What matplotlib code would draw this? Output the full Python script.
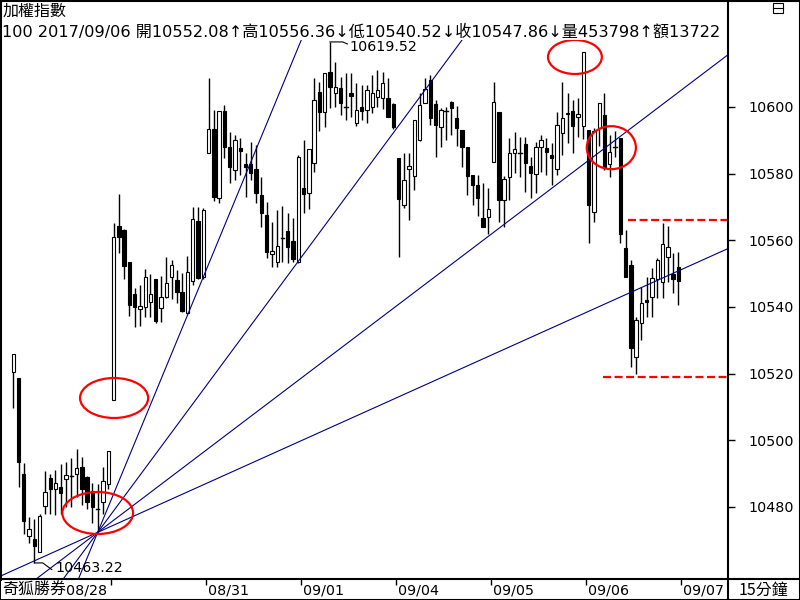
import matplotlib
matplotlib.use("Agg")
import matplotlib.pyplot as plt
from matplotlib.patches import Rectangle, Ellipse
from matplotlib.lines import Line2D

# 15-minute bars
opens = [10520.4, 10518.6, 10490.0, 10471.3, 10470.5, 10466.4, 10480.4, 10488.8, 10485.4, 10486.1,
         10488.4, 10489.3, 10490.0, 10492.1, 10489.1, 10484.9, 10479.5, 10481.4, 10486.9, 10512.1,
         10564.3, 10563.1, 10553.6, 10543.9, 10539.5, 10539.9, 10541.6, 10548.3, 10539.6, 10543.1,
         10548.9, 10548.1, 10544.4, 10538.3, 10547.9, 10565.8, 10548.9, 10586.1, 10593.3, 10572.6,
         10598.8, 10587.9, 10581.1, 10587.6, 10582.8, 10582.8, 10581.3, 10573.6, 10567.6, 10555.8,
         10553.6, 10560.6, 10562.9, 10559.8, 10553.6, 10575.6, 10574.1, 10583.1, 10604.4, 10598.6,
         10610.6, 10604.1, 10605.6, 10599.9, 10604.1, 10595.1, 10599.9, 10599.1, 10600.1, 10602.9,
         10602.6, 10602.6, 10600.8, 10584.6, 10570.6, 10581.3, 10579.4, 10590.1, 10601.1, 10608.1,
         10600.8, 10594.1, 10598.8, 10601.6, 10596.6, 10593.1, 10587.9, 10579.6, 10576.6, 10566.6,
         10567.1, 10583.6, 10598.6, 10572.1, 10578.9, 10586.1, 10586.1, 10588.8, 10582.3, 10579.8,
         10587.9, 10587.8, 10585.6, 10581.3, 10592.1, 10598.3, 10598.8, 10597.1, 10594.4, 10593.1,
         10568.6, 10593.6, 10597.6, 10582.9, 10588.0, 10590.6, 10557.6, 10552.6, 10525.1, 10535.1,
         10542.1, 10542.9, 10548.3, 10547.6, 10554.9, 10549.8, 10552.08]
highs = [10525.8, 10518.8, 10493.1, 10477.1, 10476.5, 10477.9, 10490.8, 10489.8, 10491.1, 10492.8,
         10493.6, 10494.6, 10497.3, 10495.1, 10489.3, 10487.1, 10486.8, 10492.1, 10496.8, 10565.3,
         10573.9, 10563.5, 10553.6, 10545.6, 10546.6, 10551.3, 10549.9, 10548.3, 10549.3, 10554.9,
         10554.1, 10551.1, 10550.1, 10555.3, 10570.1, 10570.1, 10569.6, 10608.6, 10599.1, 10598.8,
         10600.6, 10592.6, 10591.6, 10590.6, 10586.1, 10589.4, 10588.6, 10578.9, 10571.4, 10565.6,
         10569.1, 10570.3, 10568.3, 10566.6, 10585.6, 10590.1, 10587.3, 10608.6, 10607.6, 10610.1,
         10619.52, 10613.4, 10609.1, 10610.1, 10610.1, 10607.1, 10606.6, 10606.6, 10609.6, 10611.1,
         10610.4, 10608.6, 10601.1, 10584.6, 10586.1, 10586.1, 10596.1, 10604.1, 10608.6, 10609.6,
         10602.1, 10599.6, 10600.1, 10601.8, 10600.3, 10593.1, 10588.1, 10579.6, 10579.6, 10577.1,
         10575.6, 10607.6, 10598.6, 10579.3, 10590.6, 10592.6, 10590.9, 10591.1, 10585.1, 10589.6,
         10591.6, 10590.6, 10589.3, 10598.6, 10607.6, 10604.1, 10602.1, 10602.6, 10616.6, 10593.1,
         10593.6, 10601.1, 10604.1, 10591.6, 10592.9, 10590.6, 10563.1, 10554.1, 10536.9, 10546.1,
         10549.1, 10551.6, 10554.6, 10565.1, 10564.3, 10556.1, 10556.36]
lows = [10509.6, 10486.1, 10471.8, 10469.3, 10463.22, 10466.4, 10477.8, 10477.8, 10477.6, 10477.8,
        10480.1, 10480.1, 10483.1, 10480.6, 10479.5, 10475.1, 10472.4, 10478.0, 10485.5, 10512.1,
        10556.3, 10548.3, 10537.3, 10533.9, 10534.3, 10537.1, 10537.1, 10535.3, 10535.6, 10542.6,
        10542.3, 10541.3, 10538.6, 10537.9, 10546.6, 10548.3, 10548.3, 10586.1, 10571.9, 10571.3,
        10584.8, 10577.1, 10578.1, 10579.6, 10572.9, 10578.1, 10571.3, 10563.9, 10554.6, 10551.9,
        10552.1, 10553.6, 10553.3, 10553.6, 10553.3, 10568.3, 10569.3, 10580.6, 10592.9, 10593.9,
        10599.6, 10600.1, 10597.6, 10596.1, 10597.1, 10594.4, 10596.1, 10595.1, 10598.3, 10600.1,
        10599.4, 10596.9, 10593.4, 10555.1, 10569.6, 10566.1, 10575.1, 10589.8, 10601.1, 10594.6,
        10585.1, 10588.1, 10590.1, 10591.6, 10588.3, 10582.1, 10573.6, 10570.6, 10567.3, 10563.9,
        10561.8, 10583.6, 10565.6, 10564.1, 10572.1, 10580.3, 10578.9, 10574.6, 10572.6, 10574.1,
        10580.6, 10579.6, 10576.6, 10579.6, 10585.6, 10589.1, 10586.1, 10591.1, 10590.4, 10559.3,
        10565.6, 10588.3, 10581.1, 10578.9, 10585.1, 10559.3, 10549.1, 10521.9, 10519.8, 10530.1,
        10537.1, 10537.1, 10542.6, 10542.6, 10547.6, 10544.1, 10540.52]
closes = [10525.8, 10493.4, 10475.9, 10473.5, 10468.3, 10477.3, 10484.4, 10485.4, 10487.1, 10484.1,
          10489.6, 10489.3, 10491.8, 10485.4, 10481.4, 10480.1, 10479.5, 10487.8, 10496.8, 10560.9,
          10561.1, 10552.4, 10540.6, 10540.1, 10540.3, 10548.9, 10543.9, 10535.9, 10543.1, 10547.1,
          10552.5, 10544.6, 10538.9, 10550.4, 10566.3, 10548.6, 10569.1, 10593.3, 10572.9, 10598.8,
          10587.9, 10582.1, 10590.1, 10586.8, 10582.1, 10580.3, 10574.1, 10568.1, 10556.6, 10556.8,
          10558.3, 10560.6, 10557.9, 10554.3, 10585.1, 10573.8, 10587.3, 10602.1, 10598.6, 10610.1,
          10605.9, 10605.9, 10601.1, 10599.9, 10603.4, 10599.1, 10598.8, 10605.1, 10604.1, 10605.1,
          10607.3, 10597.1, 10593.9, 10572.3, 10578.1, 10582.3, 10596.1, 10600.6, 10605.3, 10596.6,
          10594.6, 10599.1, 10598.8, 10599.6, 10593.6, 10588.1, 10579.4, 10576.6, 10572.8, 10563.9,
          10569.4, 10601.4, 10572.1, 10578.3, 10586.3, 10587.3, 10586.1, 10583.1, 10580.3, 10587.9,
          10590.1, 10586.6, 10584.6, 10594.6, 10596.6, 10597.8, 10594.4, 10597.9, 10616.6, 10570.6,
          10592.9, 10601.1, 10582.1, 10586.4, 10588.0, 10561.8, 10549.1, 10527.6, 10536.1, 10541.1,
          10541.6, 10548.6, 10554.1, 10558.9, 10557.9, 10548.3, 10547.86]

day_labels = ["08/28", "08/31", "09/01", "09/04", "09/05", "09/06", "09/07"]
day_first_bar = [19, 37, 55, 73, 91, 109, 127]
price_ticks = [10480, 10500, 10520, 10540, 10560, 10580, 10600]

fan_bar = 16                                # fan drawn from this bar's low
fan_slopes = [3.83, 2.14, 1.20, 0.713]      # price change per bar
support_levels = [10566.1, 10518.9]
support_from = [116.5, 111.7]

title1 = "加權指數"
title2 = "100 2017/09/06 開10552.08↑高10556.36↓低10540.52↓收10547.86↓量453798↑額13722"

CJK = ["Noto Sans CJK TC", "DejaVu Sans"]
MIXED = ["DejaVu Sans", "Noto Sans CJK TC"]
W, H = 800, 600

fig = plt.figure(figsize=(8, 6), dpi=100)
ax = fig.add_axes([0, 21 / H, 728 / W, 539 / H])
ax.set_xlim(-2.51, 135.4)
ax.set_ylim(10458.4, 10620.1)

# candles
for i, (o, h, l, c) in enumerate(zip(opens, highs, lows, closes)):
    ax.plot([i, i], [l, h], color="black", lw=1.0, solid_capstyle="butt", zorder=2)
    lo, hi = min(o, c), max(o, c)
    if hi - lo < 0.35:
        ax.plot([i - 0.32, i + 0.32], [o, o], color="black", lw=1.0, zorder=3)
    else:
        ax.add_patch(Rectangle((i - 0.32, lo), 0.64, hi - lo,
                               facecolor="black" if c < o else "white",
                               edgecolor="black", lw=0.8, zorder=3))

# gann style fan
for s in fan_slopes:
    ax.axline((fan_bar, lows[fan_bar]), slope=s, color="#000080", lw=0.8, zorder=4)

# red dashed levels
for lvl, x0 in zip(support_levels, support_from):
    ax.plot([x0, 135.4], [lvl, lvl], color="#ff0000", lw=1.6,
            linestyle=(0, (3.6, 1.6)), zorder=4)

# red circles: (bar, price, width in bars, height in price)
circles = [(19.1, 10512.7, 12.9, 12.0), (16.0, 10478.2, 13.4, 12.6),
           (106.4, 10615.0, 10.2, 10.2), (113.3, 10587.8, 9.3, 12.9)]
for bx, py, bw, ph in circles:
    ax.add_patch(Ellipse((bx, py), bw, ph, fill=False, edgecolor="#ff0000", lw=1.6, zorder=5))

# high / low labels
hi_i = highs.index(max(highs))
lo_i = lows.index(min(lows))
ax.plot([hi_i, hi_i + 2.4, hi_i + 3.3], [highs[hi_i], highs[hi_i], highs[hi_i] - 0.6],
        color="black", lw=0.8, zorder=5)
ax.text(hi_i + 3.6, highs[hi_i] - 1.5, f"{highs[hi_i]:.2f}", fontsize=10.3,
        va="center", ha="left", zorder=6)
ax.plot([lo_i, lo_i + 1.6, lo_i + 3.3], [lows[lo_i], lows[lo_i], lows[lo_i] - 2.0],
        color="black", lw=0.8, zorder=5)
ax.text(lo_i + 3.9, lows[lo_i] - 1.4, f"{lows[lo_i]:.2f}", fontsize=10.3,
        va="center", ha="left", zorder=6)

# axes styling
for side in ["top", "left", "bottom", "right"]:
    ax.spines[side].set_visible(False)
ax.yaxis.tick_right()
ax.set_yticks(price_ticks)
ax.set_yticklabels([str(p) for p in price_ticks])
ax.tick_params(axis="y", direction="out", length=5, width=1, pad=10, labelsize=10.3)
ax.set_xticks([b - 0.5 for b in day_first_bar])
ax.set_xticklabels([])
ax.tick_params(axis="x", direction="out", length=4, width=1)

for k, (lab, b) in enumerate(zip(day_labels, day_first_bar)):
    if k == 0:
        ax.annotate(lab, xy=(b - 0.5, 0), xycoords=("data", "axes fraction"),
                    xytext=(-3, -3), textcoords="offset points", ha="right", va="top",
                    fontsize=10.3)
    else:
        ax.annotate(lab, xy=(b - 0.5, 0), xycoords=("data", "axes fraction"),
                    xytext=(1.5, -3), textcoords="offset points", ha="left", va="top",
                    fontsize=10.3)

# header and frame
fig.text(3 / W, 1 - 11 / H, title1, fontsize=11.5, family=CJK, va="center", ha="left")
fig.text(2 / W, 1 - 32 / H, title2, fontsize=11.6, family=MIXED, va="center", ha="left")
fig.text(2 / W, 10 / H, "奇狐勝券", fontsize=11.5, family=CJK, va="center", ha="left",
         bbox=dict(facecolor="white", edgecolor="none", pad=0.5))
fig.text(764 / W, 10 / H, "15分鐘", fontsize=11.5, family=CJK, va="center", ha="center")

frame = [((0, 1), (0.5 / H, 0.5 / H)), ((0, 1), (1 - 0.5 / H, 1 - 0.5 / H)),
         ((0.5 / W, 0.5 / W), (0, 1)), ((1 - 0.5 / W, 1 - 0.5 / W), (0, 1)),
         ((728 / W, 728 / W), (0, 1)), ((0, 1), (21 / H, 21 / H))]
for xs, ys in frame:
    fig.add_artist(Line2D(xs, ys, color="black", lw=1.5, transform=fig.transFigure))
fig.add_artist(Rectangle((773 / W, 1 - 13 / H), 10 / W, 10 / H, fill=False, edgecolor="black",
                         lw=0.8, transform=fig.transFigure))
fig.add_artist(Line2D([773 / W, 783 / W], [1 - 8 / H, 1 - 8 / H], color="black", lw=0.8,
                      transform=fig.transFigure))

fig.savefig("out.png", dpi=100)
